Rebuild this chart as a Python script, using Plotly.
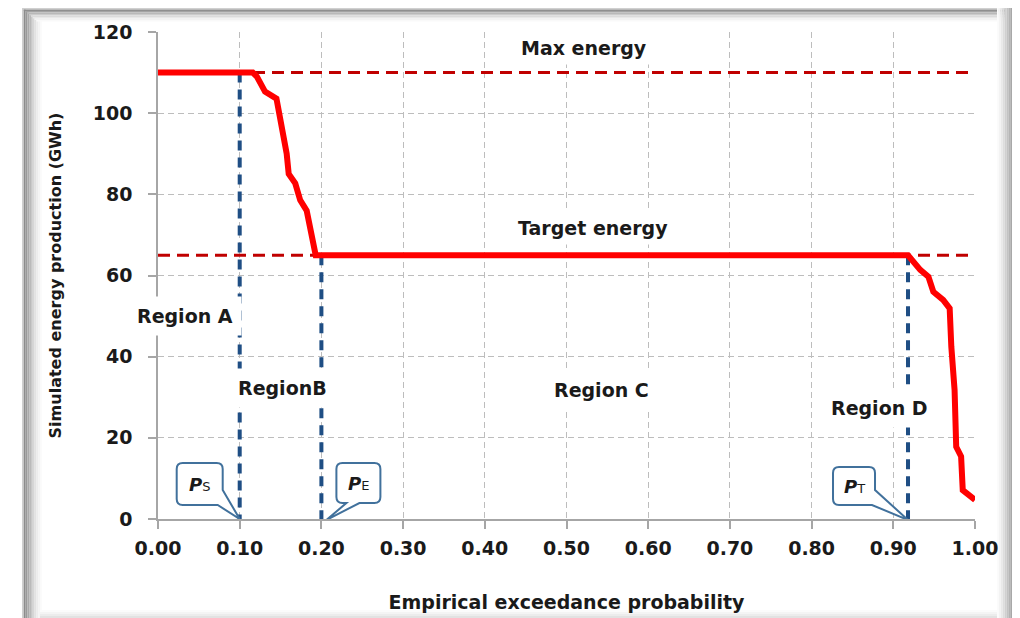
import plotly.graph_objects as go

# ---------------- data ----------------
curve_x = [0.00, 0.116, 0.121, 0.131, 0.145, 0.149, 0.155, 0.1575, 0.160, 0.168, 0.174,
           0.182, 0.186, 0.193, 0.918, 0.933, 0.943, 0.949, 0.961, 0.969, 0.971, 0.975,
           0.977, 0.983, 0.985, 0.992, 1.000]
curve_y = [110, 110, 109, 105.3, 103.6, 99, 94, 90, 85, 82.7, 78.6,
           76, 72, 65, 65, 61.4, 59.7, 56, 54, 51.9, 42.5, 31.8,
           17.8, 15.4, 7.1, 5.9, 4.7]

max_energy = 110
target_energy = 65

p_names = ["S", "E", "T"]
p_values = [0.10, 0.20, 0.918]
p_tops = [max_energy, target_energy, target_energy]

region_labels = ["Region A", "RegionB", "Region C", "Region D"]
region_x = [0.033, 0.152, 0.543, 0.883]
region_y = [50.0, 32.3, 31.8, 27.4]

level_labels = ["Max energy", "Target energy"]
level_x = [0.521, 0.532]
level_y = [116.1, 71.7]

x_ticks = [i / 10 for i in range(11)]
y_ticks = [0, 20, 40, 60, 80, 100, 120]

# ---------------- style ----------------
FONT = "DejaVu Sans"
TXT = "#1a1a1a"
GRID = "#bdbdbd"
BLUE = "#1f4e84"
CALLOUT = "#41719c"

# the page places the figure 8px from the top-left corner of the window
OFF = 8
W, H = 1020 - OFF, 618 - OFF
ML, MR, MT, MB = 158 - OFF, 45, 32 - OFF, 99
PW, PH = W - ML - MR, H - MT - MB


def px_x(px):
    return (px - OFF - ML) / PW


def px_y(py):
    return (H - MB - (py - OFF)) / PH


fig = go.Figure()

# vertical probability markers
for v, top in zip(p_values, p_tops):
    fig.add_trace(go.Scatter(x=[v, v], y=[top, 0], mode="lines",
                             line=dict(color=BLUE, width=4, dash="10px,7px"),
                             showlegend=False, hoverinfo="skip"))

# horizontal reference lines
for lvl in [max_energy, target_energy]:
    fig.add_trace(go.Scatter(x=[0, 1], y=[lvl, lvl], mode="lines",
                             line=dict(color="#c00000", width=3, dash="12px,7px"),
                             showlegend=False, hoverinfo="skip"))

# main curve
fig.add_trace(go.Scatter(x=curve_x, y=curve_y, mode="lines",
                         line=dict(color="#ff0000", width=6),
                         showlegend=False, hoverinfo="skip"))

shapes = []

# frame with soft shadow (outside the plot area)
def band(x0, x1, y0, y1, color):
    shapes.append(dict(type="rect", xref="paper", yref="paper",
                       x0=px_x(x0), x1=px_x(x1), y0=px_y(y0), y1=px_y(y1),
                       line=dict(width=0), fillcolor=color, layer="below"))

left_cols = ["#cfcfcf", "#8c8c8c", "#9a9a9a", "#aaaaaa", "#bababa", "#c9c9c9",
             "#d6d6d6", "#e2e2e2", "#ececec", "#f4f4f4", "#fafafa"]
for i, c in enumerate(left_cols):
    band(22 + i * 1.8, 22 + (i + 1) * 1.8, 8 + min(i, 7) * 1.5, 618, c)
top_cols = ["#d0d0d0", "#8f8f8f", "#a3a3a3", "#b8b8b8", "#cbcbcb", "#dbdbdb",
            "#e8e8e8", "#f2f2f2", "#f9f9f9"]
for i, c in enumerate(top_cols):
    band(22 + min(i, 9) * 1.8, 1006, 8 + i * 1.5, 8 + (i + 1) * 1.5, c)
right_cols = ["#fbfbfb", "#f3f3f3", "#e9e9e9", "#dddddd", "#d0d0d0", "#c3c3c3",
              "#b5b5b5", "#a8a8a8", "#9c9c9c", "#939393", "#9a9a9a", "#a8a8a8"]
for i, c in enumerate(right_cols):
    band(997 + i * 1.9, 997 + (i + 1) * 1.9, 8, 618, c)
bottom_cols = ["#fbfbfb", "#f4f4f4", "#ececec", "#e2e2e2"]
for i, c in enumerate(bottom_cols):
    band(40, 997, 610 + i * 2, 612 + i * 2, c)


# callouts: rounded box with a tail pointing at each probability marker
def rbox_path(L, R, T, B, r, tail):
    kind = tail[0]
    p = [f"M {L + r},{T}", f"H {R - r}", f"Q {R},{T} {R},{T - r}"]
    if kind == "right":
        ty, tipx, tipy, bx = tail[1:]
        p += [f"V {ty}", f"L {tipx},{tipy}", f"L {bx},{B}"]
    else:
        bx1, tipx, tipy, bx0 = tail[1:]
        p += [f"V {B + r}", f"Q {R},{B} {R - r},{B}", f"H {bx1}",
              f"L {tipx},{tipy}", f"L {bx0},{B}"]
    p += [f"H {L + r}", f"Q {L},{B} {L},{B + r}", f"V {T - r}",
          f"Q {L},{T} {L + r},{T}", "Z"]
    return " ".join(p)


callout_geom = [
    (-63, -17, 56, 14, ("right", 29, 0, 0, -22)),
    (15, 59, 56, 16, ("bottom", 38, 5, -1, 25)),
    (-75, -33, 52, 14, ("right", 29, 0, -1, -36)),
]
annotations = []
for name, v, (L, R, T, B, tail) in zip(p_names, p_values, callout_geom):
    shapes.append(dict(type="path", xref="x", yref="y", xsizemode="pixel",
                       ysizemode="pixel", xanchor=v, yanchor=0,
                       path=rbox_path(L, R, T, B, 6, tail),
                       line=dict(color=CALLOUT, width=2), fillcolor="white",
                       layer="above"))
    annotations.append(dict(
        x=v, y=0, xref="x", yref="y", xshift=(L + R) / 2, yshift=(T + B) / 2,
        showarrow=False,
        text=f"<b><i>P</i></b><span style='font-size:13px'>{name}</span>",
        font=dict(family=FONT, size=18, color=TXT)))

for t, x, y in zip(region_labels, region_x, region_y):
    annotations.append(dict(x=x, y=y, xref="x", yref="y", text=f"<b>{t}</b>",
                            showarrow=False, bgcolor="white", borderpad=8,
                            font=dict(family=FONT, size=19, color=TXT)))
for t, x, y in zip(level_labels, level_x, level_y):
    annotations.append(dict(x=x, y=y, xref="x", yref="y", text=f"<b>{t}</b>",
                            showarrow=False, bgcolor="white", borderpad=5,
                            font=dict(family=FONT, size=19, color=TXT)))

fig.update_layout(
    width=W, height=H,
    margin=dict(l=ML, r=MR, t=MT, b=MB, autoexpand=False),
    paper_bgcolor="white", plot_bgcolor="white",
    font=dict(family=FONT, color=TXT),
    shapes=shapes, annotations=annotations,
    showlegend=False,
)

fig.update_xaxes(
    range=[0, 1], tickvals=x_ticks, ticktext=[f"<b>{v:.2f}</b>" for v in x_ticks],
    showgrid=True, gridcolor=GRID, griddash="6px,4px", gridwidth=1,
    showline=True, linecolor="#a6a6a6", linewidth=1.5,
    ticks="outside", ticklen=8, tickcolor="#a6a6a6", tickwidth=1.5,
    ticklabelstandoff=3, automargin=False,
    tickfont=dict(family=FONT, size=19, color=TXT), zeroline=False,
    title=dict(text="<b>Empirical exceedance probability</b>", standoff=38,
               font=dict(family=FONT, size=19, color=TXT)),
)
fig.update_yaxes(
    range=[0, 120], tickvals=y_ticks, ticktext=[f"<b>{v}</b>" for v in y_ticks],
    showgrid=True, gridcolor=GRID, griddash="6px,4px", gridwidth=1,
    showline=True, linecolor="#a6a6a6", linewidth=1.5,
    ticks="outside", ticklen=8, tickcolor="#a6a6a6", tickwidth=1.5,
    ticklabelstandoff=12, automargin=False,
    tickfont=dict(family=FONT, size=19, color=TXT), zeroline=False,
    title=dict(text="<b>Simulated energy production (GWh)</b>", standoff=27,
               font=dict(family=FONT, size=16, color=TXT)),
)

fig.write_html("out.html", config={"displayModeBar": False})
